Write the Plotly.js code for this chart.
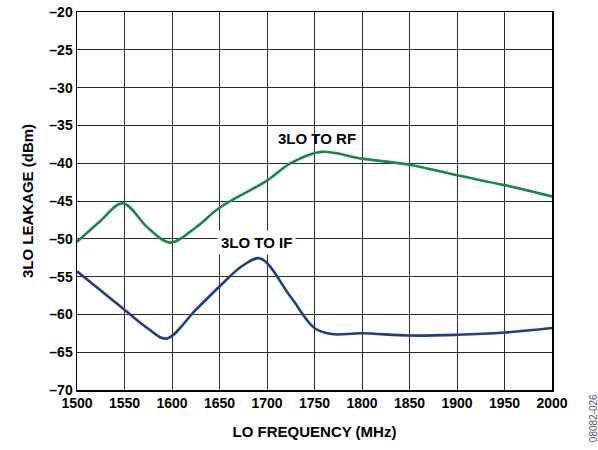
<!DOCTYPE html>
<html>
<head>
<meta charset="utf-8">
<script src="https://cdn.plot.ly/plotly-3.0.1.min.js"></script>
<style>html,body{margin:0;padding:0;background:#fff;}#chart{width:598px;height:450px;}</style>
</head>
<body>
<div id="chart"></div>
<script>
const freqRF = [1500, 1525, 1548, 1575, 1598, 1625, 1650, 1700, 1725, 1757, 1800, 1850, 1900, 1950, 2000];
const rfLeak = [-50.4, -47.6, -45.3, -48.6, -50.5, -48.5, -45.9, -42.3, -40.0, -38.5, -39.4, -40.2, -41.6, -42.9, -44.4];
const freqIF = [1500, 1550, 1575, 1594, 1625, 1650, 1675, 1693, 1725, 1750, 1768, 1800, 1850, 1900, 1950, 2000];
const ifLeak = [-54.3, -59.4, -61.9, -63.2, -59.4, -56.3, -53.5, -52.6, -57.7, -61.8, -62.6, -62.5, -62.8, -62.7, -62.4, -61.8];
const xTicks = [1500, 1550, 1600, 1650, 1700, 1750, 1800, 1850, 1900, 1950, 2000];
const yTicks = [-70, -65, -60, -55, -50, -45, -40, -35, -30, -25, -20];

const fam = 'Liberation Sans, Arial, sans-serif';
const traces = [
  {x: freqRF, y: rfLeak, mode: 'lines', line: {color: '#168a48', width: 2.6, shape: 'spline', smoothing: 1}, hoverinfo: 'skip'},
  {x: freqIF, y: ifLeak, mode: 'lines', line: {color: '#1a3f8e', width: 2.6, shape: 'spline', smoothing: 1}, hoverinfo: 'skip'}
];
const layout = {
  width: 598, height: 450,
  margin: {l: 77, r: 46, t: 12, b: 60},
  paper_bgcolor: '#fff', plot_bgcolor: '#fff',
  showlegend: false,
  font: {family: fam, size: 14, color: '#000'},
  xaxis: {
    range: [1500, 2000], tickvals: xTicks, ticktext: xTicks.map(String),
    showgrid: true, gridcolor: '#2a2a2a', gridwidth: 1,
    showline: true, linecolor: '#000', linewidth: 1.5, mirror: true,
    ticks: '', zeroline: false,
    tickfont: {family: fam, size: 14, color: '#000', weight: 'bold'},
    title: {text: '<b>LO FREQUENCY (MHz)</b>', font: {family: fam, size: 15, color: '#000'}, standoff: 16}
  },
  yaxis: {
    range: [-70, -20], tickvals: yTicks, ticktext: yTicks.map(v => '\u2013' + Math.abs(v)),
    showgrid: true, gridcolor: '#2a2a2a', gridwidth: 1,
    showline: true, linecolor: '#000', linewidth: 1.5, mirror: true,
    ticks: '', zeroline: false,
    tickfont: {family: fam, size: 14, color: '#000', weight: 'bold'},
    title: {text: '<b>3LO LEAKAGE (dBm)</b>', font: {family: fam, size: 15, color: '#000'}, standoff: 12}
  },
  annotations: [
    {x: 1753, y: -36.7, xref: 'x', yref: 'y', text: '<b>3LO TO RF</b>', showarrow: false, font: {family: fam, size: 15, color: '#000'}},
    {x: 1689, y: -50.5, xref: 'x', yref: 'y', text: '<b>3LO TO IF</b>', showarrow: false, bgcolor: '#fff', borderpad: 3, font: {family: fam, size: 15, color: '#000'}},
    {x: 1 + (594 - 552) / 473, y: -(418 - 390) / 378, xref: 'paper', yref: 'paper', xanchor: 'center', yanchor: 'middle', text: '08082-026', showarrow: false, textangle: -90, font: {family: fam, size: 10, color: '#555'}}
  ]
};
Plotly.newPlot('chart', traces, layout, {displayModeBar: false, staticPlot: true});
</script>
</body>
</html>
